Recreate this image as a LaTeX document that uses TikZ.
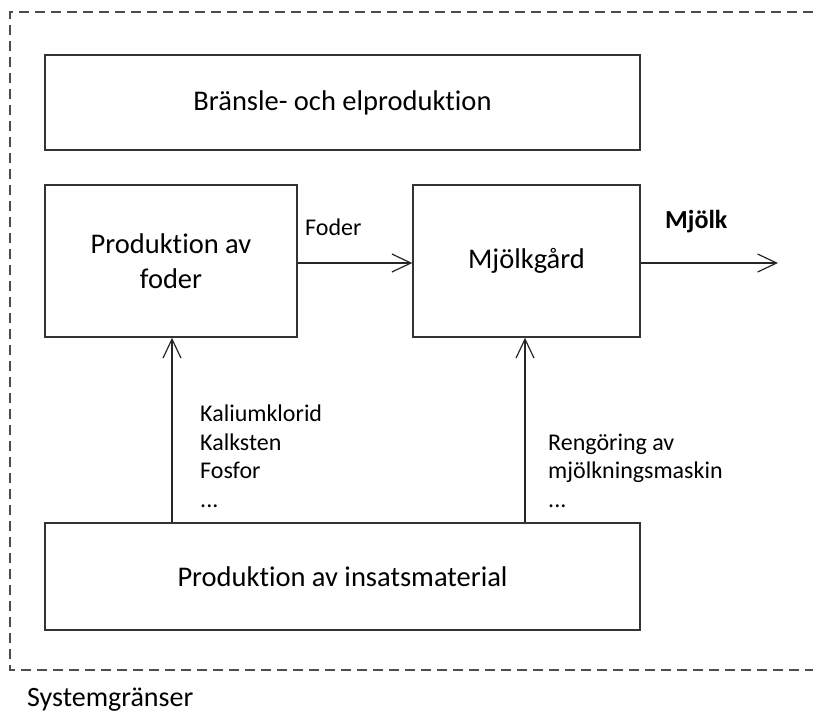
\documentclass[tikz,border=0pt]{standalone}
\usepackage{fontspec}
\setmainfont{Carlito}[Ligatures=CommonOff]
\usetikzlibrary{arrows.meta}
\begin{document}
\begin{tikzpicture}[x=1pt,y=-1pt,
  box/.style={draw=black!80,line width=1.4pt,inner sep=0pt,align=center,font=\fontsize{28.5}{35}\selectfont},
  flow/.style={draw=black!85,line width=1.2pt,-{Straight Barb[length=19pt,width=18pt,line width=1.2pt]}},
  lbl/.style={inner sep=0pt,anchor=base west,font=\fontsize{24}{28}\selectfont},
  boundary/.style={draw=black!70,line width=1.3pt,dash pattern=on 10pt off 6pt}]
\useasboundingbox (0,0) rectangle (813,713);
\draw[boundary] (813,12) -- (10,12) -- (10,670) -- (813,670);
\node[box,minimum width=595pt,minimum height=95pt] (bransle) at (342.5,102.5) {Bränsle- och elproduktion};
\node[box,minimum width=252pt,minimum height=152pt] (foder) at (171,261) {Produktion av\\foder};
\node[box,minimum width=227pt,minimum height=152pt] (gard) at (526.5,261) {Mjölkgård};
\node[box,minimum width=595pt,minimum height=107pt] (insats) at (342.5,576.5) {Produktion av insatsmaterial};
\coordinate (ut) at (778,263);
\draw[flow] (foder.east |- 0,263) -- (gard.west |- 0,263);
\draw[flow] (gard.east |- 0,263) -- (ut);
\draw[flow] (insats.north -| 172,0) -- (foder.south -| 172,0);
\draw[flow] (insats.north -| 525,0) -- (gard.south -| 525,0);
\node[lbl] (lfoder) at (305,235) {Foder};
\node[lbl,font=\fontsize{26}{30}\selectfont\bfseries] (lmjolk) at (665,228) {Mjölk};
\node[lbl] (k1) at (200,421) {Kaliumklorid};
\node[lbl] (k2) at (200,450) {Kalksten};
\node[lbl] (k3) at (200,478) {Fosfor};
\node[lbl] (k4) at (200,507) {...};
\node[lbl] (r1) at (548,450) {Rengöring av};
\node[lbl] (r2) at (548,478) {mjölkningsmaskin};
\node[lbl] (r3) at (548,507) {...};
\node[lbl,font=\fontsize{28}{34}\selectfont] (sys) at (27,706) {Systemgränser};
\end{tikzpicture}
\end{document}
